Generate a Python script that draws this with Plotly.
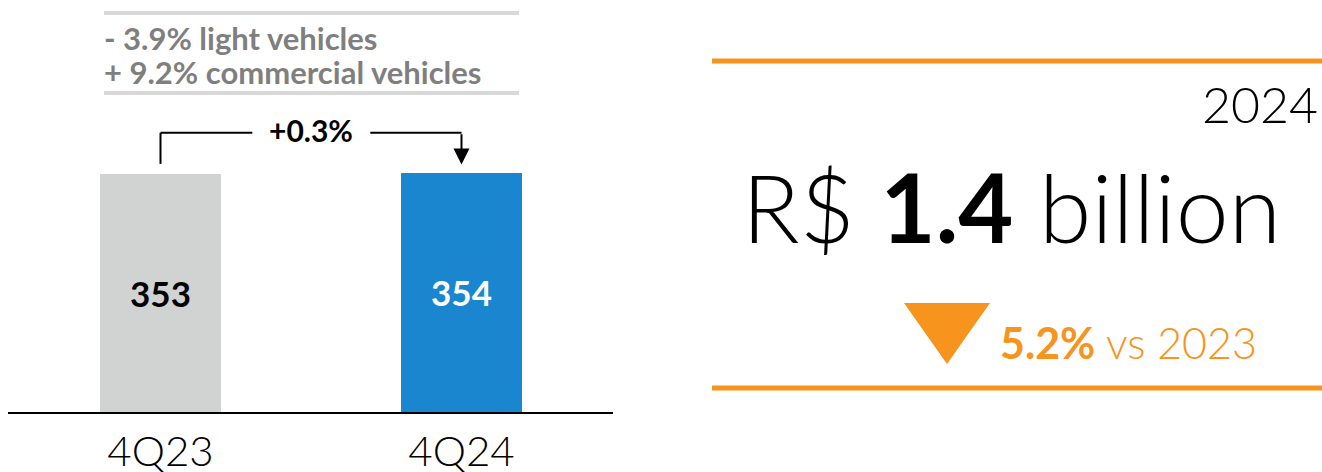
import plotly.graph_objects as go

categories = ["4Q23", "4Q24"]
values = [353, 354]
bar_colors = ["#d1d3d2", "#1a86d0"]
label_colors = ["#000000", "#ffffff"]
growth_label = "+0.3%"
notes = ["- 3.9% light vehicles", "+ 9.2% commercial vehicles"]
year_label = "2024"
total_value = "1.4"
change_value = "5.2%"
change_base = "vs 2023"

W, H = 1322, 472
FONT = "Lato"
ORANGE = "#f7941d"

def px(x):
    return x / W

def py(y):
    return 1 - y / H

fig = go.Figure()
fig.add_trace(go.Bar(
    x=categories, y=values, marker_color=bar_colors, marker_line_width=0,
    width=0.402, text=[str(v) for v in values], textposition="inside",
    insidetextanchor="middle",
    textfont=dict(family=FONT, size=35, color=label_colors, weight="bold"),
    hoverinfo="skip", showlegend=False,
))

# bracket between bars
ytop = 414
fig.add_shape(type="line", xref="x", yref="y", x0=0, x1=0, y0=368, y1=ytop,
              line=dict(color="black", width=2))
fig.add_shape(type="line", xref="x", yref="y", x0=0, x1=0.305, y0=ytop, y1=ytop,
              line=dict(color="black", width=2))
fig.add_shape(type="line", xref="x", yref="y", x0=0.697, x1=1, y0=ytop, y1=ytop,
              line=dict(color="black", width=2))
fig.add_annotation(x=1, y=367, ax=1, ay=ytop, xref="x", yref="y", axref="x", ayref="y",
                   showarrow=True, arrowhead=2, arrowsize=1.6, arrowwidth=2,
                   arrowcolor="black", text="")
fig.add_annotation(x=0.5, y=ytop, xref="x", yref="y", text=growth_label, showarrow=False,
                   font=dict(family=FONT, size=30, color="black", weight="bold"),
                   yanchor="middle", yshift=3)

# notes box at top
for yy in (13, 93):
    fig.add_shape(type="line", xref="paper", yref="paper", x0=px(104), x1=px(519),
                  y0=py(yy), y1=py(yy), line=dict(color="#d9d9d9", width=4))
for i, t in enumerate(notes):
    fig.add_annotation(xref="paper", yref="paper", x=px(102), y=py(38 + 34 * i),
                       xanchor="left", yanchor="middle", text=t, showarrow=False,
                       font=dict(family=FONT, size=31, color="#7f7f7f", weight="bold"))

# right panel
for yy in (61, 388):
    fig.add_shape(type="line", xref="paper", yref="paper", x0=px(712), x1=1,
                  y0=py(yy), y1=py(yy), line=dict(color=ORANGE, width=5))
fig.add_annotation(xref="paper", yref="paper", x=px(1320), y=py(104), xanchor="right",
                   yanchor="middle", text=year_label, showarrow=False,
                   font=dict(family=FONT, size=50, color="black", weight=300))
fig.add_annotation(xref="paper", yref="paper", x=px(1011), y=py(206), xanchor="center",
                   yanchor="middle",
                   text=f"R$ <b>{total_value}</b> billion", showarrow=False,
                   font=dict(family=FONT, size=95, color="black", weight=300))
fig.add_shape(type="path", xref="paper", yref="paper",
              path=f"M {px(904)} {py(303)} L {px(990)} {py(303)} L {px(947)} {py(364)} Z",
              fillcolor=ORANGE, line=dict(width=0))
fig.add_annotation(xref="paper", yref="paper", x=px(998), y=py(342), xanchor="left",
                   yanchor="middle",
                   text=f"<b>{change_value}</b> {change_base}", showarrow=False,
                   font=dict(family=FONT, size=43, color=ORANGE, weight=300))

x_left, x_right = 8, 613
c0, step = 160.5, 301
y_bottom = 412
scale = 238 / 353
ymax = 500
fig.update_layout(
    width=W, height=H, margin=dict(l=0, r=0, t=0, b=0, autoexpand=False),
    paper_bgcolor="white", plot_bgcolor="white",
    xaxis=dict(domain=[px(x_left), px(x_right)],
               range=[(x_left - c0) / step, (x_right - c0) / step],
               showline=True, linecolor="black", linewidth=2, ticks="",
               showgrid=False, zeroline=False, automargin=False,
               tickfont=dict(family=FONT, size=42, color="black", weight=300),
               ticklabelstandoff=2),
    yaxis=dict(domain=[py(y_bottom), py(y_bottom - ymax * scale)], range=[0, ymax],
               visible=False, showgrid=False, zeroline=False, automargin=False),
    bargap=0,
)
fig.write_html("out.html", config={"displayModeBar": False},
               post_script="document.body.style.margin='0';document.body.style.overflow='hidden';")
